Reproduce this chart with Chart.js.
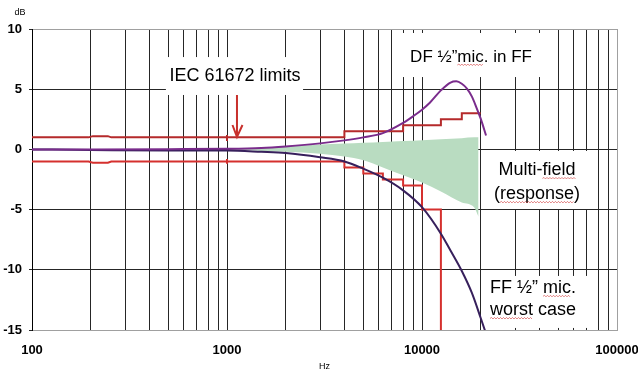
<!DOCTYPE html>
<html>
<head>
<meta charset="utf-8">
<title>Microphone response vs IEC 61672 limits</title>
<script src="https://cdn.jsdelivr.net/npm/chart.js@4.4.0/dist/chart.umd.min.js"></script>
<style>
    html, body { margin: 0; padding: 0; background: #fff; }
</style>
</head>
<body>
<canvas id="responseChart" width="638" height="374"></canvas>
<script>
// IEC 61672 tolerance limits (step lines)
const iecUpperHz = [100, 195, 205, 245, 255, 1000, 1000, 1000, 1000, 4000, 4000, 8000, 8000, 12500, 12500, 16000, 16000, 20000];
const iecUpperDb = [1, 1, 1.1, 1.1, 1, 1, 1.2, 0.7, 1, 1, 1.5, 1.5, 2, 2, 2.5, 2.5, 3, 3];
const iecLowerHz = [100, 195, 205, 245, 255, 1000, 1000, 1000, 1000, 4000, 4000, 5000, 5000, 6300, 6300, 8000, 8000, 10000, 10000, 12500, 12500];
const iecLowerDb = [-1, -1, -1.1, -1.1, -1, -1, -0.8, -1.2, -1, -1, -1.5, -1.5, -2, -2, -2.5, -2.5, -3, -3, -5, -5, -20];

// DF 1/2" microphone used in free field
const dfHz = [100, 200, 500, 1000, 1500, 2000, 3000, 4000, 5000, 6300, 8000, 9000, 10000, 11000, 12500, 14000, 15000, 16000, 17000, 18000, 19000, 20000, 21300];
const dfDb = [0, 0, 0.02, 0.05, 0.12, 0.25, 0.5, 0.75, 1.0, 1.35, 2.2, 2.75, 3.3, 3.9, 4.9, 5.55, 5.65, 5.45, 5.05, 4.4, 3.5, 2.55, 1.15];

// FF 1/2" microphone, worst case
const ffHz = [100, 200, 500, 1000, 1500, 2000, 3000, 4000, 5000, 6300, 8000, 10000, 12500, 14000, 16000, 18000, 20000, 21500];
const ffDb = [0, -0.05, -0.1, -0.1, -0.2, -0.3, -0.65, -1.0, -1.6, -2.35, -3.4, -4.8, -7.0, -8.4, -10.1, -11.9, -14.0, -15.5];

// Multi-field response envelope
const mfHz = [1000, 2000, 3000, 4000, 5000, 6300, 8000, 10000, 12500, 16000, 18500, 19500];
const mfUpperDb = [0, 0.25, 0.4, 0.48, 0.55, 0.62, 0.7, 0.77, 0.84, 0.93, 1.0, 1.0];
const mfLowerDb = [0, -0.2, -0.36, -0.6, -0.9, -1.5, -2.15, -2.75, -3.5, -4.4, -4.8, -5.6];

// axes
const xTickLabels = [100, 1000, 10000, 100000];
const yTicks = [-15, -10, -5, 0, 5, 10];

const fontFamily = '"Liberation Sans", Arial, sans-serif';

const xGridHz = [];
for (let decade = 100; decade < 100000; decade *= 10) {
    for (let m = 1; m < 10; m++) {
        xGridHz.push(decade * m);
    }
}
xGridHz.push(100000);

// text callouts, anchored in Hz / dB
const notes = [
    {
        box: [486, 2455, 7.67, 4.52],
        align: "center",
        size: 18,
        lines: [{ text: "IEC 61672 limits", hz: 1100, db: 6.1, wavy: [] }],
    },
    {
        box: [7272, 46990, 9.67, 6.01],
        align: "center",
        size: 17,
        lines: [{ text: "DF \u00BD\u201Dmic. in FF", hz: 17840, db: 7.67, wavy: ["mic"] }],
    },
    {
        box: [20800, 76250, -0.13, -4.95],
        align: "center",
        size: 18,
        lines: [
            { text: "Multi-field", hz: 38870, db: -1.71, wavy: ["field"] },
            { text: "(response)", hz: 38870, db: -3.7, wavy: ["response"] },
        ],
    },
    {
        box: [21040, 74500, -10.51, -14.83],
        align: "left",
        size: 18,
        lines: [
            { text: "FF \u00BD\u201D mic.", hz: 22320, db: -11.5, wavy: ["mic"] },
            { text: "worst case", hz: 22320, db: -13.34, wavy: ["worst"] },
        ],
    },
];

function toPoints(hz, db) {
    return hz.map((f, i) => ({ x: f, y: db[i] }));
}

function drawWavy(ctx, x1, x2, y) {
    ctx.beginPath();
    ctx.moveTo(x1, y);
    let up = true;
    for (let x = x1 + 1.5; x <= x2; x += 1.5) {
        ctx.lineTo(x, up ? y - 1 : y + 0.5);
        up = !up;
    }
    ctx.strokeStyle = "rgba(210, 60, 60, 0.8)";
    ctx.lineWidth = 0.8;
    ctx.stroke();
}

const notesPlugin = {
    id: "notes",
    beforeDatasetsDraw(chart) {
        const { ctx } = chart;
        const xs = chart.scales.x;
        const ys = chart.scales.y;
        ctx.save();
        notes.forEach((note) => {
            const left = xs.getPixelForValue(note.box[0]);
            const right = xs.getPixelForValue(note.box[1]);
            const top = ys.getPixelForValue(note.box[2]);
            const bottom = ys.getPixelForValue(note.box[3]);
            ctx.fillStyle = "#fff";
            ctx.fillRect(left, top, right - left, bottom - top);

            ctx.font = `${note.size}px ${fontFamily}`;
            ctx.textAlign = note.align;
            ctx.textBaseline = "middle";
            note.lines.forEach((line) => {
                const px = xs.getPixelForValue(line.hz);
                const py = ys.getPixelForValue(line.db);
                ctx.fillStyle = "#000";
                ctx.fillText(line.text, px, py);
                const full = ctx.measureText(line.text).width;
                const startX = note.align === "center" ? px - full / 2 : px;
                line.wavy.forEach((word) => {
                    const idx = line.text.indexOf(word);
                    const before = ctx.measureText(line.text.slice(0, idx)).width;
                    const w = ctx.measureText(word).width;
                    drawWavy(ctx, startX + before, startX + before + w, py + note.size * 0.47);
                });
            });
        });
        ctx.restore();
    },
    afterDatasetsDraw(chart) {
        const { ctx } = chart;
        const xs = chart.scales.x;
        const ys = chart.scales.y;
        const ax = xs.getPixelForValue(1125);
        const from = ys.getPixelForValue(4.52);
        const tip = ys.getPixelForValue(1.03);
        ctx.save();
        ctx.strokeStyle = "#c8302c";
        ctx.lineWidth = 2;
        ctx.beginPath();
        ctx.moveTo(ax, from);
        ctx.lineTo(ax, tip);
        ctx.moveTo(ax - 4.5, tip - 12);
        ctx.lineTo(ax, tip);
        ctx.lineTo(ax + 5.5, tip - 12);
        ctx.stroke();
        ctx.restore();
    },
    afterDraw(chart) {
        const { ctx, chartArea } = chart;
        ctx.save();
        ctx.font = `9px ${fontFamily}`;
        ctx.fillStyle = "#000";
        ctx.textAlign = "center";
        ctx.textBaseline = "middle";
        ctx.fillText("dB", chartArea.left - 12, chartArea.top - 16);
        ctx.restore();
    },
};

const tickFont = { family: fontFamily, size: 13, weight: "bold" };

new Chart(document.getElementById("responseChart"), {
    type: "line",
    data: {
        datasets: [
            {
                label: "Multi-field upper",
                data: toPoints(mfHz, mfUpperDb),
                fill: "+1",
                backgroundColor: "#b9dcc1",
                borderColor: "transparent",
                borderWidth: 0,
                cubicInterpolationMode: "monotone",
                order: 5,
            },
            {
                label: "Multi-field lower",
                data: toPoints(mfHz, mfLowerDb),
                fill: false,
                borderColor: "transparent",
                borderWidth: 0,
                cubicInterpolationMode: "monotone",
                order: 5,
            },
            {
                label: "IEC upper",
                data: toPoints(iecUpperHz, iecUpperDb),
                borderColor: "#b52a2b",
                borderWidth: 2,
                order: 3,
            },
            {
                label: "IEC lower",
                data: toPoints(iecLowerHz, iecLowerDb),
                borderColor: "#d5302e",
                borderWidth: 2,
                order: 3,
            },
            {
                label: "FF 1/2 mic. worst case",
                data: toPoints(ffHz, ffDb),
                borderColor: "#37205c",
                borderWidth: 2,
                cubicInterpolationMode: "monotone",
                order: 2,
            },
            {
                label: "DF 1/2 mic. in FF",
                data: toPoints(dfHz, dfDb),
                borderColor: "#7a2c8c",
                borderWidth: 2,
                cubicInterpolationMode: "monotone",
                order: 1,
            },
        ],
    },
    options: {
        responsive: false,
        animation: false,
        events: [],
        layout: { padding: { left: 0, top: 29, right: 21, bottom: 0 } },
        elements: { point: { radius: 0 }, line: { fill: false } },
        plugins: {
            legend: { display: false },
            tooltip: { enabled: false },
        },
        scales: {
            x: {
                type: "logarithmic",
                min: 100,
                max: 100000,
                afterBuildTicks: (scale) => {
                    scale.ticks = xGridHz.map((v) => ({ value: v }));
                },
                afterFit: (scale) => {
                    scale.height = 44;
                    scale.paddingLeft = 0;
                    scale.paddingRight = 0;
                },
                ticks: {
                    autoSkip: false,
                    maxRotation: 0,
                    padding: 13,
                    color: "#000",
                    font: tickFont,
                    callback: (value) => (xTickLabels.includes(value) ? String(value) : ""),
                },
                grid: {
                    drawTicks: false,
                    color: (ctx) => (ctx.tick && ctx.tick.value === 100000 ? "#a0a0a0" : "#262626"),
                    lineWidth: 1,
                },
                border: { color: "#a0a0a0", width: 1 },
                title: {
                    display: true,
                    text: "Hz",
                    color: "#000",
                    font: { family: fontFamily, size: 9 },
                    padding: { top: 0, bottom: 2 },
                },
            },
            y: {
                min: -15,
                max: 10,
                afterBuildTicks: (scale) => {
                    scale.ticks = yTicks.map((v) => ({ value: v }));
                },
                afterFit: (scale) => {
                    scale.width = 32;
                    scale.paddingTop = 0;
                    scale.paddingBottom = 0;
                },
                ticks: {
                    padding: 7,
                    color: "#000",
                    font: tickFont,
                },
                grid: {
                    color: (ctx) =>
                        ctx.tick && (ctx.tick.value === 10 || ctx.tick.value === -15) ? "#a0a0a0" : "#262626",
                    tickColor: "#262626",
                    tickLength: 3,
                    lineWidth: 1,
                },
                border: { color: "#000", width: 1 },
            },
        },
    },
    plugins: [notesPlugin],
});
</script>
</body>
</html>
